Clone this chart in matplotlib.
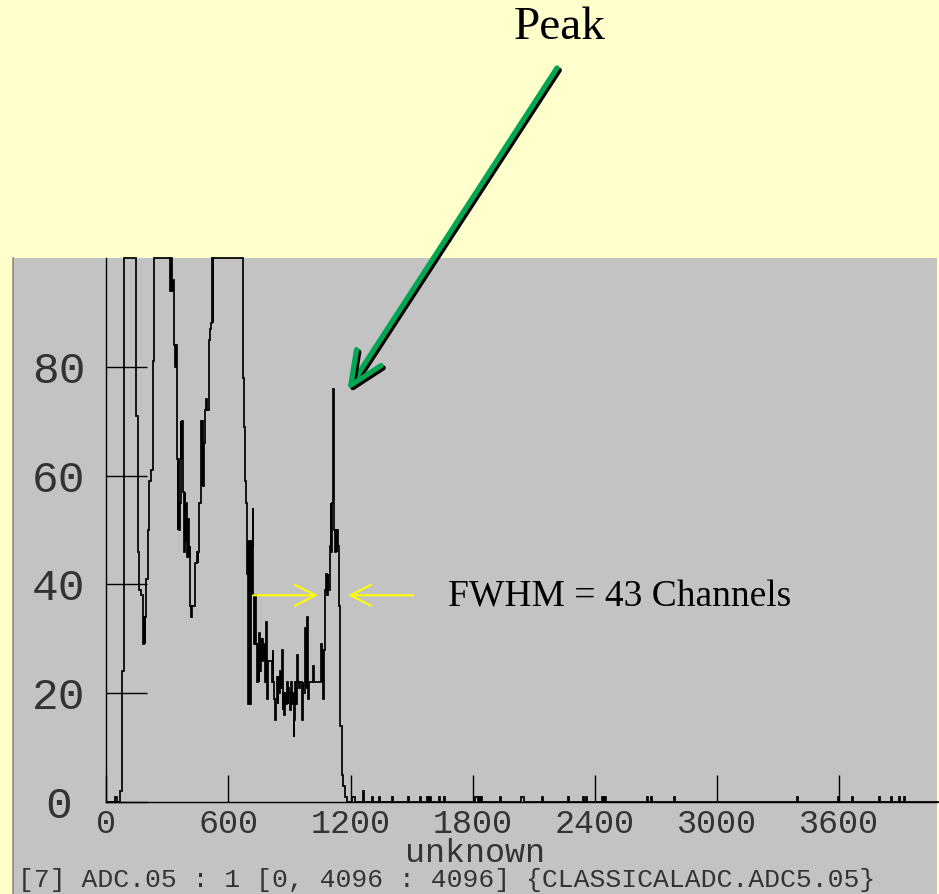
import matplotlib
matplotlib.use('Agg')
import matplotlib.pyplot as plt
import matplotlib.patheffects as pe
from matplotlib.patches import Rectangle
from matplotlib.lines import Line2D

# ADC5 spectrum, channels 0..1200: left bin edge (channel) and counts (display clips at 100)
MainEdges = [0, 44, 55, 67, 76, 87, 148, 155, 163, 171, 179, 182, 185, 188, 191, 197, 204, 212, 222, 229, 236,
             315, 320, 325, 329, 333, 338, 342, 346, 350, 354, 358, 361, 365, 369, 372, 377, 381, 385, 389, 393,
             398, 402, 406, 411, 413, 418, 423, 436, 445, 449, 453, 457, 465, 468, 472, 476, 480, 487, 491, 495,
             505, 510, 514, 518, 522, 526,
             674, 678, 682, 685, 690, 694, 698, 702, 706, 710, 714, 717, 719, 723, 727, 731, 735, 741, 744, 748,
             752, 756, 759, 763, 767, 772, 776, 781, 785, 789, 792, 796, 813, 817, 821, 826, 830, 834, 837, 842,
             846, 850, 854, 858, 862, 866, 870, 874, 878, 883, 886, 891, 895, 899, 903, 907, 911, 916, 920, 924,
             929, 932, 939, 943, 948, 954, 960, 965, 969, 976, 980, 984, 988, 993, 998, 1014, 1021, 1054, 1058,
             1061, 1066, 1071, 1075, 1080, 1085, 1089, 1091, 1099, 1102, 1106, 1110, 1115, 1120, 1124, 1128,
             1132, 1136, 1140, 1145, 1148, 1157, 1165, 1173, 1181]
MainCounts = [0, 1, 0, 2, 24, 100, 71, 46, 39, 38, 34, 29, 34, 29, 34, 41, 50, 59, 61, 81, 100,
              94, 100, 94, 96, 84, 80, 84, 63, 50, 63, 50, 55, 70, 63, 70, 57, 46, 57, 48, 55,
              45, 52, 45, 47, 36, 34, 36, 44, 46, 44, 46, 55, 70, 58, 70, 58, 66, 72, 74, 72,
              85, 87, 88, 100, 88, 100,
              78, 69, 59, 55, 42, 48, 18, 48, 18, 48, 38, 47, 54, 38, 29, 38, 29, 22, 29, 22,
              31, 24, 30, 26, 30, 26, 29, 22, 33, 26, 19, 26, 22, 28, 22, 19, 15, 19, 23, 18,
              23, 20, 24, 21, 28, 17, 20, 16, 20, 18, 22, 18, 21, 20, 17, 22, 18, 20, 12, 15,
              22, 18, 27, 22, 21, 22, 15, 22, 20, 32, 21, 32, 34, 19, 22, 25, 22, 29, 22,
              28, 19, 28, 39, 42, 38, 42, 39, 47, 55, 46, 55, 76, 50, 46, 50,
              46, 50, 47, 36, 14, 5, 3, 1, 0]
MainEnd = 1200

# isolated counts above channel 1200
SparseStart = [1206, 1262, 1307, 1340, 1405, 1483, 1540, 1575, 1583, 1591, 1636, 1659, 1812, 1830, 1840,
               1935, 2038, 2140, 2267, 2344, 2356, 2436, 2443, 2450, 2658, 2676, 2791, 3393, 3597, 3663,
               3799, 3856, 3897, 3922]
SparseWidth = [16, 5, 5, 5, 5, 5, 5, 5, 5, 5, 5, 5, 14, 5, 5,
               5, 16, 5, 5, 5, 5, 5, 5, 5, 5, 5, 5, 5, 5, 5,
               5, 5, 5, 5]
SparseCount = [1, 2, 1, 1, 1, 1, 1, 1, 1, 1, 1, 1, 1, 1, 1,
               1, 1, 1, 1, 1, 1, 1, 1, 1, 1, 1, 1, 1, 1, 1,
               1, 1, 1, 1]

XTicks = [0, 600, 1200, 1800, 2400, 3000, 3600]
YTicks = [0, 20, 40, 60, 80]
XMax = 4082

# FWHM markers and peak arrow
HalfMax = 38
FwhmRightArrow = (721, 1040)   # tail, tip (channels)
FwhmLeftArrow = (1507, 1188)
PeakArrowTip = (1184, 75.6)

edges = list(MainEdges)
counts = list(MainCounts)
pos = MainEnd
for s, w, c in zip(SparseStart, SparseWidth, SparseCount):
    edges.append(pos)
    counts.append(0)
    edges.append(s)
    counts.append(c)
    pos = s + w
edges.append(pos)
counts.append(0)
edges.append(4096)

W, H = 939, 894
fig = plt.figure(figsize=(W / 100, H / 100), dpi=100)
fig.patch.set_facecolor('#FFFFCC')

# grey display panel
fig.add_artist(Rectangle((13 / W, 0), (937 - 13) / W, 636 / H, transform=fig.transFigure,
                         facecolor='#C3C3C3', edgecolor='none', zorder=0))
fig.add_artist(Line2D([13 / W, 13 / W], [0, 636 / H], transform=fig.transFigure, color='#8C8C7A', lw=1.2))

ax = fig.add_axes([106.3 / W, 92 / H, (937 - 106.3) / W, 544 / H])
ax.set_facecolor('none')
ax.stairs(counts, edges, color='black', lw=1.25, clip_on=False)
ax.set_xlim(0, XMax)
ax.set_ylim(0, 100)

for s in ['top', 'right']:
    ax.spines[s].set_visible(False)
for s in ['left', 'bottom']:
    ax.spines[s].set_linewidth(1.0)
    ax.spines[s].set_color('black')

mono = 'Liberation Mono'
ax.set_xticks(XTicks)
ax.set_xticklabels([str(t) for t in XTicks], family=mono, fontsize=24, color='#333333')
ax.set_yticks(YTicks)
ax.set_yticklabels([str(t) for t in YTicks], family=mono, fontsize=32, color='#333333', ha='center')
ax.tick_params(axis='x', direction='in', length=19.5, width=1.0, pad=5)
ax.tick_params(axis='y', direction='in', length=29.5, width=1.0, pad=34.5)

fig.text(475 / W, 1 - 853 / H, 'unknown', family=mono, fontsize=24, color='#333333',
         ha='center', va='center')
fig.text(18 / W, 1 - 880 / H, '[7] ADC.05 : 1 [0, 4096 : 4096] {CLASSICALADC.ADC5.05}',
         family=mono, fontsize=19, color='#333333', ha='left', va='center')

# annotations
fig.text(560 / W, 1 - 28 / H, 'Peak', family='Liberation Serif', fontsize=34, ha='center', va='center')
fig.text(620 / W, 1 - 597 / H, 'FWHM = 43 Channels', family='Liberation Serif', fontsize=27,
         ha='center', va='center')

yellow = dict(arrowstyle='->,head_length=15,head_width=7.6', color='#FFFF00', lw=1.5,
              shrinkA=0, shrinkB=0, mutation_scale=1)
ax.annotate('', xy=(FwhmRightArrow[1], HalfMax), xytext=(FwhmRightArrow[0], HalfMax),
            arrowprops=yellow, annotation_clip=False)
ax.annotate('', xy=(FwhmLeftArrow[1], HalfMax), xytext=(FwhmLeftArrow[0], HalfMax),
            arrowprops=yellow, annotation_clip=False)

green = ax.annotate('', xy=PeakArrowTip, xytext=(557, H - 68), textcoords='figure pixels',
                    arrowprops=dict(arrowstyle='->,head_length=23.7,head_width=10.5', color='#00A651',
                                    lw=3.8, shrinkA=0, shrinkB=0, mutation_scale=1),
                    annotation_clip=False)
green.arrow_patch.set_path_effects([pe.SimpleLineShadow(offset=(1.6, -1.6), shadow_color='black', alpha=1.0),
                                    pe.Normal()])

fig.savefig('out.png', dpi=100, facecolor=fig.get_facecolor())
